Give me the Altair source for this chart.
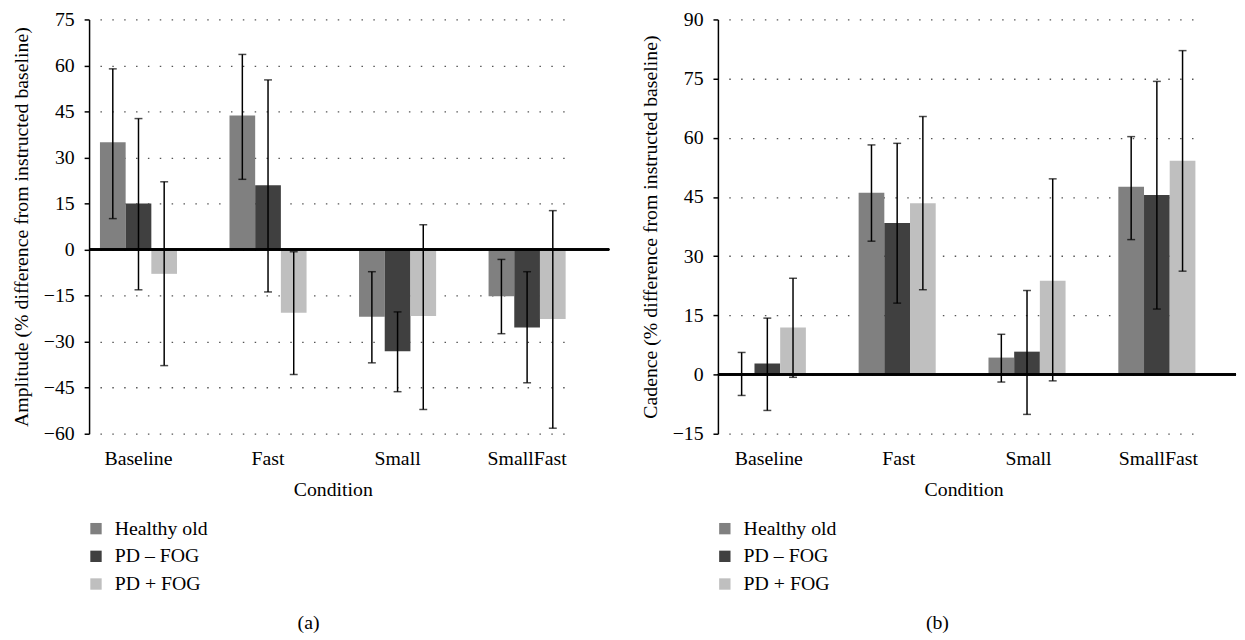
import altair as alt
import pandas as pd

conditions = ["Baseline", "Fast", "Small", "SmallFast"]
groups = ["Healthy old", "PD – FOG", "PD + FOG"]
colors = ["#808080", "#404040", "#bfbfbf"]

# Panel (a): Amplitude
amp_mean_healthy = [35.0, 43.7, -21.9, -15.2]
amp_low_healthy = [10.1, 22.9, -36.9, -27.4]
amp_high_healthy = [58.9, 63.6, -7.2, -3.2]
amp_mean_pdnofog = [15.0, 21.0, -33.1, -25.4]
amp_low_pdnofog = [-13.1, -13.8, -46.3, -43.4]
amp_high_pdnofog = [42.7, 55.3, -20.3, -7.2]
amp_mean_pdfog = [-7.9, -20.6, -21.6, -22.6]
amp_low_pdfog = [-37.8, -40.7, -52.1, -58.2]
amp_high_pdfog = [22.1, -0.7, 8.1, 12.7]

# Panel (b): Cadence
cad_mean_healthy = [0.4, 46.1, 4.3, 47.6]
cad_low_healthy = [-5.3, 33.8, -1.9, 34.2]
cad_high_healthy = [5.6, 58.2, 10.2, 60.3]
cad_mean_pdnofog = [2.8, 38.4, 5.8, 45.5]
cad_low_pdnofog = [-9.1, 18.1, -10.1, 16.6]
cad_high_pdnofog = [14.3, 58.6, 21.3, 74.3]
cad_mean_pdfog = [11.9, 43.4, 23.8, 54.2]
cad_low_pdfog = [-0.7, 21.5, -1.6, 26.2]
cad_high_pdfog = [24.4, 65.4, 49.6, 82.1]

amp_ticks = [-60, -45, -30, -15, 0, 15, 30, 45, 60, 75]
cad_ticks = [-15, 0, 15, 30, 45, 60, 75, 90]

FONT = "Liberation Serif"


def make_df(series):
    rows = []
    for g, (means, lows, highs) in zip(groups, series):
        for c, m, lo, hi in zip(conditions, means, lows, highs):
            rows.append({"condition": c, "group": g, "mean": m, "lo": lo, "hi": hi})
    return pd.DataFrame(rows)


amp_df = make_df([
    (amp_mean_healthy, amp_low_healthy, amp_high_healthy),
    (amp_mean_pdnofog, amp_low_pdnofog, amp_high_pdnofog),
    (amp_mean_pdfog, amp_low_pdfog, amp_high_pdfog),
])
cad_df = make_df([
    (cad_mean_healthy, cad_low_healthy, cad_high_healthy),
    (cad_mean_pdnofog, cad_low_pdnofog, cad_high_pdnofog),
    (cad_mean_pdfog, cad_low_pdfog, cad_high_pdfog),
])


def panel(df, domain, ticks, ytitle, xrange, pinner, width, caption, cap_dx):
    base = alt.Chart(df)
    x = alt.X(
        "condition:N",
        sort=conditions,
        scale=alt.Scale(domain=conditions, range=xrange, paddingInner=pinner, paddingOuter=0),
        axis=alt.Axis(title="Condition", domain=False, ticks=False, labelAngle=0,
                      labelPadding=15, titlePadding=11, grid=False),
    )
    xo = alt.XOffset("group:N", sort=groups, scale=alt.Scale(domain=groups, paddingInner=0, paddingOuter=0))
    yscale = alt.Scale(domain=domain, nice=False, zero=False)
    y = alt.Y(
        "mean:Q",
        scale=yscale,
        axis=alt.Axis(title=ytitle, values=ticks, grid=True, gridDash=[1.5, 10.5],
                      gridColor="#555555", gridWidth=1.3, domainColor="black", domainWidth=1.5,
                      tickColor="black", tickWidth=1.5, tickSize=5, labelPadding=10,
                      titlePadding=12),
    )
    bars = base.mark_bar().encode(
        x=x, xOffset=xo, y=y,
        color=alt.Color(
            "group:N", sort=groups,
            scale=alt.Scale(domain=groups, range=colors),
            legend=alt.Legend(title=None, orient="none", legendX=-3, legendY=505, padding=0,
                              symbolType="square", symbolSize=132, symbolStrokeWidth=0,
                              labelFontSize=20, labelFont=FONT, labelColor="black",
                              labelOffset=9, rowPadding=8),
        ),
    )
    zero = alt.Chart(df).mark_rule(color="black", strokeWidth=1.5).encode(y=alt.Y(datum=0))
    err = base.mark_rule(color="black", strokeWidth=1.5).encode(
        x=x, xOffset=xo, y=alt.Y("lo:Q"), y2="hi:Q")
    cap_hi = base.mark_tick(color="black", size=8, thickness=1.5).encode(x=x, xOffset=xo, y=alt.Y("hi:Q"))
    cap_lo = base.mark_tick(color="black", size=8, thickness=1.5).encode(x=x, xOffset=xo, y=alt.Y("lo:Q"))
    return alt.layer(bars, zero, err, cap_hi, cap_lo).properties(
        width=width, height=419,
        title=alt.TitleParams(caption, orient="bottom", fontSize=20, font=FONT, fontWeight="normal",
                              color="black", dx=cap_dx, offset=19),
    )


left = panel(amp_df, [-60, 75], amp_ticks, "Amplitude (% difference from instructed baseline)",
             [11, 482], 0.405, 526, "(a)", -41)
right = panel(cad_df, [-15, 90], cad_ticks, "Cadence (% difference from instructed baseline)",
              [11, 486], 0.383, 524, "(b)", -40)

chart = alt.hconcat(left, right, spacing=30).resolve_scale(color="independent").configure(
    padding={"left": 3, "top": -2, "right": 0, "bottom": 0},
    font=FONT,
).configure_axis(
    labelFont=FONT, titleFont=FONT, labelFontSize=20, titleFontSize=20,
    labelColor="black", titleColor="black", titleFontWeight="normal",
).configure_view(stroke=None)

chart.save("out.html", embed_options={"renderer": "svg", "actions": False})
